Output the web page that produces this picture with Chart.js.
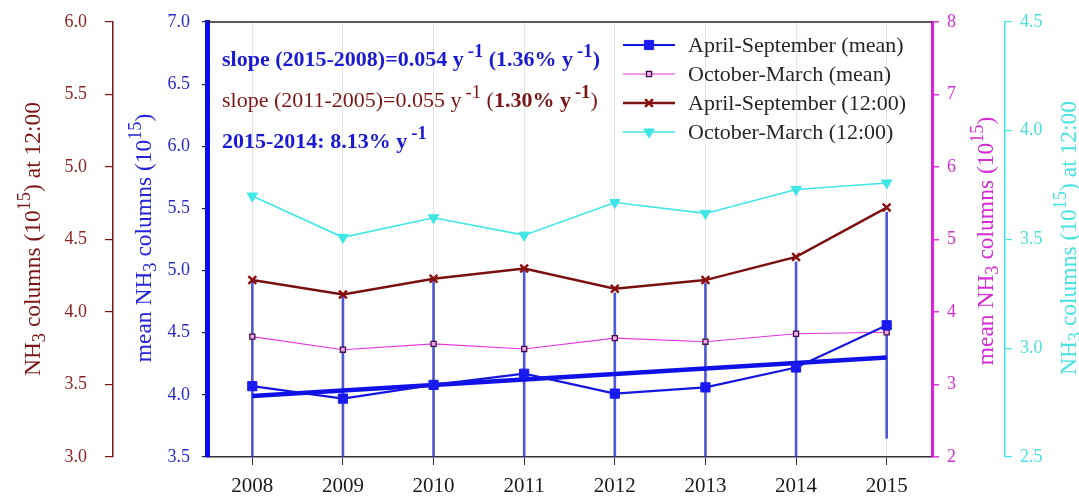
<!DOCTYPE html>
<html>
<head>
<meta charset="utf-8">
<script src="https://cdn.jsdelivr.net/npm/chart.js@4.4.1/dist/chart.umd.min.js"></script>
<style>
  html, body { margin: 0; padding: 0; background: #ffffff; }
  #wrap { width: 1079px; height: 497px; }
</style>
</head>
<body>
<div id="wrap"><canvas id="c" width="1079" height="497"></canvas></div>
<script>
// Years on the x axis
const years = ['2008', '2009', '2010', '2011', '2012', '2013', '2014', '2015'];

// April-September mean columns (10^15) and their spread
const aprSepMean = [4.07, 3.97, 4.08, 4.17, 4.01, 4.06, 4.22, 4.56];
const aprSepMeanSd = [0.85, 0.84, 0.84, 0.85, 0.81, 0.84, 0.85, 0.91];

// October-March mean columns (10^15)
const octMarMean = [3.66, 3.48, 3.56, 3.49, 3.64, 3.59, 3.70, 3.72];

// Columns at 12:00 (10^15)
const aprSepNoon = [4.22, 4.12, 4.23, 4.30, 4.16, 4.22, 4.38, 4.72];
const octMarNoon = [3.70, 3.51, 3.60, 3.52, 3.67, 3.62, 3.73, 3.76];

// Linear trend of the April-September mean, 2008 to 2015
const trendYears = ['2008', '2015'];
const trendValues = [3.99, 4.30];

// Axis ranges
const noonLeftRange = [3.0, 6.0];
const meanLeftRange = [3.5, 7.0];
const meanRightRange = [2, 8];
const noonRightRange = [2.5, 4.5];

const FONT = '"Liberation Serif", "Times New Roman", serif';
const BROWN = '#7c1515';
const MAGENTA = '#e236e2';
const CYAN = '#3fe6e6';

// Draws a run of text pieces, some raised (sup) or lowered (sub)
function drawRich(ctx, parts, x, y, size, align, supScale) {
  const sc = supScale || 0.78;
  const items = parts.map(p => {
    const fs = p.s ? size * sc : size;
    const font = (p.b ? 'bold ' : '') + fs.toFixed(1) + 'px ' + FONT;
    ctx.font = font;
    const w = ctx.measureText(p.t).width + (p.gap || 0);
    return { p, font, w };
  });
  const total = items.reduce((a, it) => a + it.w, 0);
  let cx = align === 'center' ? x - total / 2 : x;
  ctx.textBaseline = 'alphabetic';
  ctx.textAlign = 'left';
  items.forEach(it => {
    ctx.font = it.font;
    ctx.fillStyle = it.p.c;
    const dy = it.p.s === 'sup' ? -size * 0.42 : (it.p.s === 'sub' ? size * 0.24 : 0);
    ctx.fillText(it.p.t, cx + (it.p.gap || 0), y + dy);
    cx += it.w;
  });
}

function drawVertical(ctx, parts, cx, cy, size) {
  ctx.save();
  ctx.translate(cx, cy);
  ctx.rotate(-Math.PI / 2);
  drawRich(ctx, parts, 0, size * 0.32, size, 'center');
  ctx.restore();
}

function titleParts(prefix, suffix, color) {
  return [
    { t: prefix + 'NH', c: color },
    { t: '3', s: 'sub', c: color },
    { t: ' columns (10', c: color },
    { t: '15', s: 'sup', c: color },
    { t: ')' + suffix, c: color }
  ];
}

// Marker drawing for the legend keys
function drawMarker(ctx, ds, x, y) {
  const opts = {
    pointStyle: ds.pointStyle,
    radius: ds.pointRadius,
    rotation: ds.pointRotation || 0,
    borderWidth: ds.pointBorderWidth
  };
  ctx.save();
  ctx.fillStyle = ds.pointBackgroundColor;
  ctx.strokeStyle = ds.pointBorderColor;
  ctx.lineWidth = ds.pointBorderWidth;
  if (Chart.helpers && Chart.helpers.drawPoint) {
    Chart.helpers.drawPoint(ctx, opts, x, y);
  }
  ctx.restore();
}

const decorations = {
  id: 'decorations',
  afterDraw(chart) {
    const ctx = chart.ctx;
    const area = chart.chartArea;

    // frame line along the top of the plot
    ctx.save();
    ctx.strokeStyle = '#222222';
    ctx.lineWidth = 1.5;
    ctx.beginPath();
    ctx.moveTo(area.left, area.top);
    ctx.lineTo(area.right, area.top);
    ctx.stroke();
    ctx.restore();

    // axis titles
    drawVertical(ctx, titleParts('', ' at 12:00', BROWN), 32, 239, 23.5);
    drawVertical(ctx, titleParts('mean ', '', '#2323d8'), 143, 238, 23.5);
    drawVertical(ctx, titleParts('mean ', '', '#d42cd4'), 985, 241, 23.5);
    drawVertical(ctx, titleParts('', ' at 12:00', '#48e2e2'), 1068, 238, 23.5);

    // trend notes
    const B2 = '#1a1ad2';
    drawRich(ctx, [
      { t: 'slope (2015-2008)=0.054 y', b: true, c: B2 },
      { t: '-1', s: 'sup', b: true, c: B2, gap: 4 },
      { t: ' (1.36% y', b: true, c: B2 },
      { t: '-1', s: 'sup', b: true, c: B2, gap: 4 },
      { t: ')', b: true, c: B2 }
    ], 222, 66, 22, 'left', 0.85);
    drawRich(ctx, [
      { t: 'slope (2011-2005)=0.055 y', c: BROWN },
      { t: '-1', s: 'sup', c: BROWN, gap: 4 },
      { t: ' (', c: BROWN },
      { t: '1.30% y', b: true, c: BROWN },
      { t: '-1', s: 'sup', b: true, c: BROWN, gap: 4 },
      { t: ')', c: BROWN }
    ], 222, 107, 22, 'left', 0.85);
    drawRich(ctx, [
      { t: '2015-2014: 8.13% y', b: true, c: B2 },
      { t: '-1', s: 'sup', b: true, c: B2, gap: 4 }
    ], 222, 148, 22, 'left', 0.85);

    // legend
    const legendSets = chart.data.datasets.filter(d => d.inLegend);
    const rowY = [45, 74, 103, 132];
    legendSets.forEach((ds, i) => {
      const y = rowY[i];
      ctx.save();
      ctx.strokeStyle = ds.borderColor;
      ctx.lineWidth = ds.borderWidth;
      ctx.beginPath();
      ctx.moveTo(623, y);
      ctx.lineTo(675, y);
      ctx.stroke();
      ctx.restore();
      drawMarker(ctx, ds, 649, y);
      ctx.save();
      ctx.font = '22px ' + FONT;
      ctx.fillStyle = '#262626';
      ctx.textBaseline = 'middle';
      ctx.textAlign = 'left';
      ctx.fillText(ds.label, 688, y + 1);
      ctx.restore();
    });
  }
};

// Fixed axis widths; no extra room reserved above/below for edge labels
function fixedWidth(w) {
  return axis => {
    axis.width = w;
    axis.paddingTop = 0;
    axis.paddingBottom = 0;
  };
}

const chart = new Chart(document.getElementById('c'), {
  type: 'line',
  data: {
    labels: years,
    datasets: [
      {
        label: 'April-September (mean)',
        inLegend: true,
        data: aprSepMean,
        yAxisID: 'yMean',
        borderColor: '#1515e0',
        borderWidth: 2.2,
        pointStyle: 'rect',
        pointRadius: 6.5,
        pointBackgroundColor: '#1a1af0',
        pointBorderColor: '#1a1af0',
        pointBorderWidth: 1,
        order: 2
      },
      {
        label: 'October-March (mean)',
        inLegend: true,
        data: octMarMean,
        yAxisID: 'yMeanR',
        borderColor: MAGENTA,
        borderWidth: 1.1,
        pointStyle: 'rect',
        pointRadius: 3.6,
        pointBackgroundColor: '#e6b0e6',
        pointBorderColor: '#4a0a4a',
        pointBorderWidth: 1.3,
        order: 3
      },
      {
        label: 'April-September (12:00)',
        inLegend: true,
        data: aprSepNoon,
        yAxisID: 'yNoon',
        borderColor: '#7a1010',
        borderWidth: 2.5,
        pointStyle: 'crossRot',
        pointRadius: 5.5,
        pointBackgroundColor: '#8a1010',
        pointBorderColor: '#8a1010',
        pointBorderWidth: 2.5,
        order: 1
      },
      {
        label: 'October-March (12:00)',
        inLegend: true,
        data: octMarNoon,
        yAxisID: 'yNoonR',
        borderColor: CYAN,
        borderWidth: 1.6,
        pointStyle: 'triangle',
        pointRotation: 180,
        pointRadius: 6,
        pointBackgroundColor: CYAN,
        pointBorderColor: CYAN,
        pointBorderWidth: 1,
        order: 1
      },
      {
        label: 'trend',
        data: trendYears.map((y, i) => ({ x: y, y: trendValues[i] })),
        yAxisID: 'yMean',
        borderColor: '#1010e8',
        borderWidth: 4.5,
        pointRadius: 0,
        order: 4
      },
      {
        type: 'bar',
        label: 'spread',
        data: aprSepMean.map((m, i) => [m - aprSepMeanSd[i], m + aprSepMeanSd[i]]),
        yAxisID: 'yMean',
        backgroundColor: 'rgba(40, 48, 205, 0.8)',
        borderWidth: 0,
        barThickness: 2,
        grouped: false,
        order: 10
      }
    ]
  },
  options: {
    responsive: false,
    animation: false,
    events: [],
    layout: { padding: { top: 22, left: 0, right: 0, bottom: 0 } },
    plugins: { legend: { display: false }, tooltip: { enabled: false } },
    elements: { line: { tension: 0 } },
    scales: {
      x: {
        type: 'category',
        offset: true,
        afterFit: axis => { axis.height = 40; },
        grid: {
          offset: false,
          color: '#e4e4e4',
          lineWidth: 1,
          drawTicks: true,
          tickLength: 8,
          tickColor: '#333333'
        },
        border: { color: '#333333', width: 1.5 },
        ticks: {
          color: '#1a1a1a',
          font: { family: FONT, size: 21 },
          padding: 9,
          maxRotation: 0
        }
      },
      yNoon: {
        position: 'left',
        weight: 1,
        min: noonLeftRange[0], max: noonLeftRange[1],
        afterFit: fixedWidth(113),
        grid: { drawOnChartArea: false, tickLength: 8, color: BROWN, lineWidth: 1.2 },
        border: { color: BROWN, width: 1.5 },
        ticks: {
          stepSize: 0.5,
          color: '#8a2424',
          font: { family: FONT, size: 18 },
          padding: 18,
          callback: v => v.toFixed(1)
        }
      },
      yMean: {
        position: 'left',
        weight: 0,
        min: meanLeftRange[0], max: meanLeftRange[1],
        afterFit: fixedWidth(94),
        grid: { drawOnChartArea: false, tickLength: 5, color: '#222222', lineWidth: 1.2 },
        border: { color: '#0a0af0', width: 5 },
        ticks: {
          stepSize: 0.5,
          color: '#2a2ac4',
          font: { family: FONT, size: 18 },
          padding: 12,
          callback: v => v.toFixed(1)
        }
      },
      yMeanR: {
        position: 'right',
        weight: 0,
        min: meanRightRange[0], max: meanRightRange[1],
        afterFit: fixedWidth(73),
        grid: { drawOnChartArea: false, tickLength: 7, color: MAGENTA, lineWidth: 1.5 },
        border: { color: '#e020e0', width: 3 },
        ticks: {
          stepSize: 1,
          color: '#d030d0',
          font: { family: FONT, size: 18 },
          padding: 8,
          callback: v => String(v)
        }
      },
      yNoonR: {
        position: 'right',
        weight: 1,
        min: noonRightRange[0], max: noonRightRange[1],
        afterFit: fixedWidth(74),
        grid: { drawOnChartArea: false, tickLength: 7, color: CYAN, lineWidth: 1.2 },
        border: { color: CYAN, width: 1.5 },
        ticks: {
          stepSize: 0.5,
          color: '#4cdede',
          font: { family: FONT, size: 18 },
          padding: 8,
          callback: v => v.toFixed(1)
        }
      }
    }
  },
  plugins: [decorations]
});
</script>
</body>
</html>
